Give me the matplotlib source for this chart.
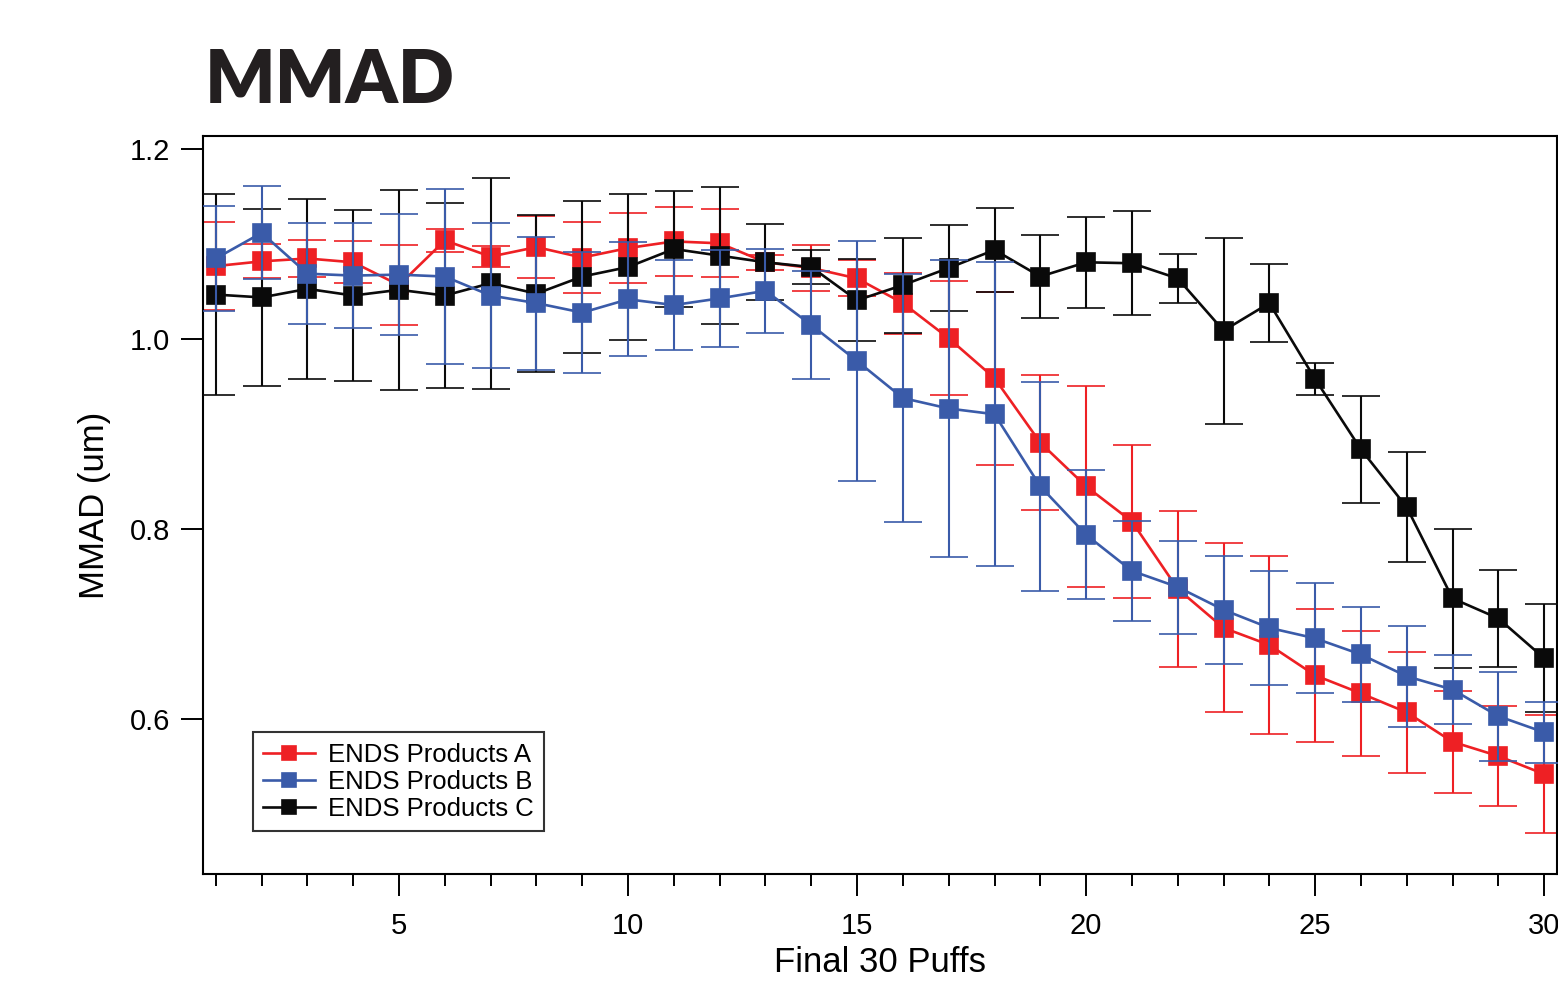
import matplotlib
matplotlib.use('Agg')
from matplotlib import pyplot as plt
import numpy as np

plt.rcParams['font.family'] = ['Liberation Sans', 'DejaVu Sans']

puffs = list(range(1, 31))

# ENDS Products A (red)
mmadA = [1.077, 1.082, 1.085, 1.081, 1.057, 1.104, 1.087, 1.097, 1.086, 1.096,
         1.103, 1.101, 1.081, 1.075, 1.064, 1.038, 1.001, 0.959, 0.891, 0.845,
         0.808, 0.737, 0.696, 0.678, 0.646, 0.627, 0.607, 0.576, 0.561, 0.542]
errA = [0.046, 0.018, 0.020, 0.022, 0.042, 0.012, 0.011, 0.033, 0.037, 0.037,
        0.036, 0.036, 0.008, 0.024, 0.019, 0.032, 0.060, 0.091, 0.071, 0.106,
        0.081, 0.082, 0.089, 0.094, 0.070, 0.066, 0.064, 0.054, 0.053, 0.062]

# ENDS Products B (blue)
mmadB = [1.085, 1.112, 1.069, 1.067, 1.068, 1.066, 1.046, 1.038, 1.028, 1.042,
         1.036, 1.043, 1.051, 1.015, 0.977, 0.938, 0.927, 0.921, 0.845, 0.794,
         0.756, 0.739, 0.715, 0.696, 0.685, 0.668, 0.645, 0.631, 0.603, 0.586]
errB = [0.055, 0.049, 0.053, 0.055, 0.064, 0.092, 0.076, 0.070, 0.064, 0.060,
        0.047, 0.051, 0.044, 0.057, 0.126, 0.131, 0.156, 0.160, 0.110, 0.068,
        0.053, 0.049, 0.057, 0.060, 0.058, 0.050, 0.053, 0.036, 0.047, 0.032]

# ENDS Products C (black)
mmadC = [1.047, 1.044, 1.053, 1.046, 1.052, 1.046, 1.059, 1.048, 1.066, 1.076,
         1.095, 1.088, 1.081, 1.076, 1.041, 1.057, 1.075, 1.094, 1.066, 1.081,
         1.080, 1.064, 1.009, 1.038, 0.958, 0.884, 0.823, 0.727, 0.706, 0.664]
errC = [0.106, 0.093, 0.095, 0.090, 0.105, 0.097, 0.111, 0.083, 0.080, 0.077,
        0.061, 0.072, 0.040, 0.018, 0.043, 0.050, 0.045, 0.044, 0.044, 0.048,
        0.055, 0.026, 0.098, 0.041, 0.017, 0.056, 0.058, 0.073, 0.051, 0.057]

labels = ['ENDS Products A', 'ENDS Products B', 'ENDS Products C']
colors = ['#ee2024', '#3a5ba9', '#0a0a0a']
zorders = [2, 4, 3]

fig = plt.figure(figsize=(15.58, 9.81), dpi=100)
ax = fig.add_axes([203/1558, 1 - 874/981, (1557-203)/1558, (874-136)/981])

lines = []
for vals, errs, lab, col, z in zip([mmadA, mmadB, mmadC], [errA, errB, errC],
                                   labels, colors, zorders):
    eb = ax.errorbar(puffs, vals, yerr=errs, color=col, label=lab, marker='s',
                     markersize=13.5, markeredgewidth=1.2, markeredgecolor=col,
                     linewidth=1.9, elinewidth=1.5, capsize=14, capthick=1.6,
                     zorder=z)
    lines.append(eb[0])

ax.set_xlim(0.72, 30.28)
ax.set_ylim(0.4368, 1.214)
ax.set_xticks([5, 10, 15, 20, 25, 30])
ax.set_xticks(puffs, minor=True)
ax.set_yticks([0.6, 0.8, 1.0, 1.2])
ax.tick_params(axis='both', which='major', direction='out', length=15.5,
               width=1.4, labelsize=21, pad=8)
ax.tick_params(axis='x', which='major', pad=12)
ax.tick_params(axis='x', which='minor', direction='out', length=8.5, width=1.4)
for sp in ax.spines.values():
    sp.set_linewidth(1.5)

ax.set_xlabel('Final 30 Puffs', fontsize=25, labelpad=4)
ax.set_ylabel('MMAD (um)', fontsize=25, labelpad=14)

leg = ax.legend(lines, labels, loc='lower left', bbox_to_anchor=(0.037, 0.058),
                borderaxespad=0, fontsize=18.5, frameon=True, fancybox=False,
                edgecolor='black', handlelength=2.0, handletextpad=0.5,
                labelspacing=0.12, borderpad=0.4, markerscale=0.75)
leg.get_frame().set_linewidth(1.5)

fig.text(205/1558, 1 - 103/981, 'MMAD', fontsize=53, fontweight='heavy',
         family=['Lato', 'DejaVu Sans'], color='#231f20', va='baseline')

fig.savefig('out.png', dpi=100)
